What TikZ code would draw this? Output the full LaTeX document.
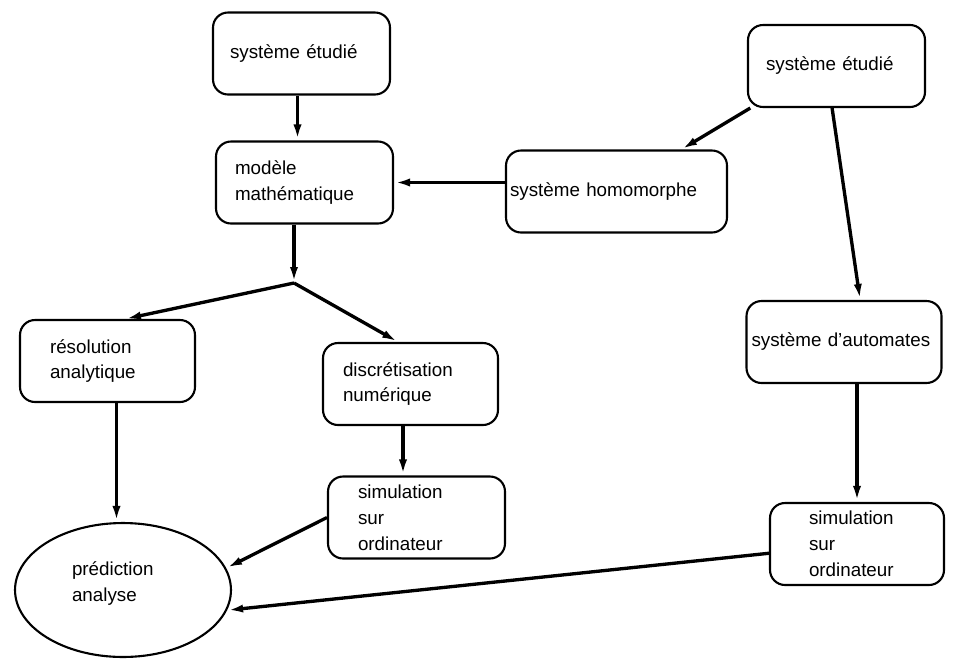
\documentclass[tikz,border=0pt]{standalone}
\usepackage{fontspec}
\setmainfont{Liberation Sans}
\usepackage{tikz}
\usetikzlibrary{arrows.meta}
\usetikzlibrary{shapes.geometric}
\tikzset{>={Latex[length=3.2mm,width=1.6mm]}}
\tikzset{boite/.style={draw, line width=1.2pt, rounded corners=0.3cm, minimum height=1.64cm, align=left, font=\fontsize{10.7}{14.7}\selectfont}}
\tikzset{fleche/.style={line width=1.9pt, ->}}

\begin{document}
\begin{tikzpicture}[x=0.02cm, y=-0.02cm]
			\useasboundingbox (0,0) rectangle (956,659);
			\coordinate (J) at (294,283);
			
			\node[boite, inner xsep=0.34cm, text width=2.86cm] (SE1) at (301.5,53.5) {système étudié};
			\node[boite, inner xsep=0.38cm, text width=2.78cm] (MM) at (304.5,182.5) {modèle\\mathématique};
			\node[boite, inner xsep=0.36cm, text width=2.82cm] (SE2) at (836.5,66) {système étudié};
			\node[boite, inner xsep=0.08cm, text width=4.26cm] (SH) at (616.5,191.5) {système homomorphe};
			\node[boite, inner xsep=0.1cm, text width=3.7cm] (SA) at (844,342) {système d'automates};
			\node[boite, inner xsep=0.78cm, text width=1.92cm] (SO2) at (857,544) {simulation\\sur\\ordinateur};
			\node[boite, inner xsep=0.6cm, text width=2.3cm] (RA) at (107.5,361) {résolution\\analytique};
			\node[boite, inner xsep=0.4cm, text width=2.7cm] (DN) at (410.5,384) {discrétisation\\numérique};
			\node[boite, inner xsep=0.6cm, text width=2.34cm] (SO1) at (416.5,517.5) {simulation\\sur\\ordinateur};
			\node[draw, ellipse, line width=1.2pt, minimum width=4.32cm, minimum height=2.68cm, inner sep=0pt, text width=2.04cm, text depth=0.86cm, align=left, font=\fontsize{10.7}{14.7}\selectfont] (PA) at (123,590) {prédiction\\analyse};
			
			\draw[fleche] ([xshift=-0.08cm]SE1.south) -- ([xshift=-0.08cm]SE1.south |- MM.north);
			\draw[fleche] (MM.south -| J) -- (J);
			\draw[fleche] (J) -- ([xshift=0.35cm]RA.north);
			\draw[fleche] (J) -- ([xshift=-0.25cm]DN.north);
			\draw[fleche] (SE2.206) -- (SH.33);
			\draw[fleche] (SH.west |- MM) -- (MM.east);
			\draw[fleche] (SE2.264) -- (SA.69);
			\draw[fleche] (SA.south -| SO2.north) -- (SO2.north);
			\draw[fleche] ([xshift=-0.15cm]DN.south) -- ([xshift=-0.15cm]DN.south |- SO1.north);
			\draw[fleche] ([xshift=0.18cm]RA.south) -- ([xshift=0.18cm]RA.south |- PA.north);
			\draw[fleche] (SO1.west) -- (PA.12);
			\draw[fleche] (SO2.186) -- (PA.-11);
			
		\end{tikzpicture}
\end{document}
